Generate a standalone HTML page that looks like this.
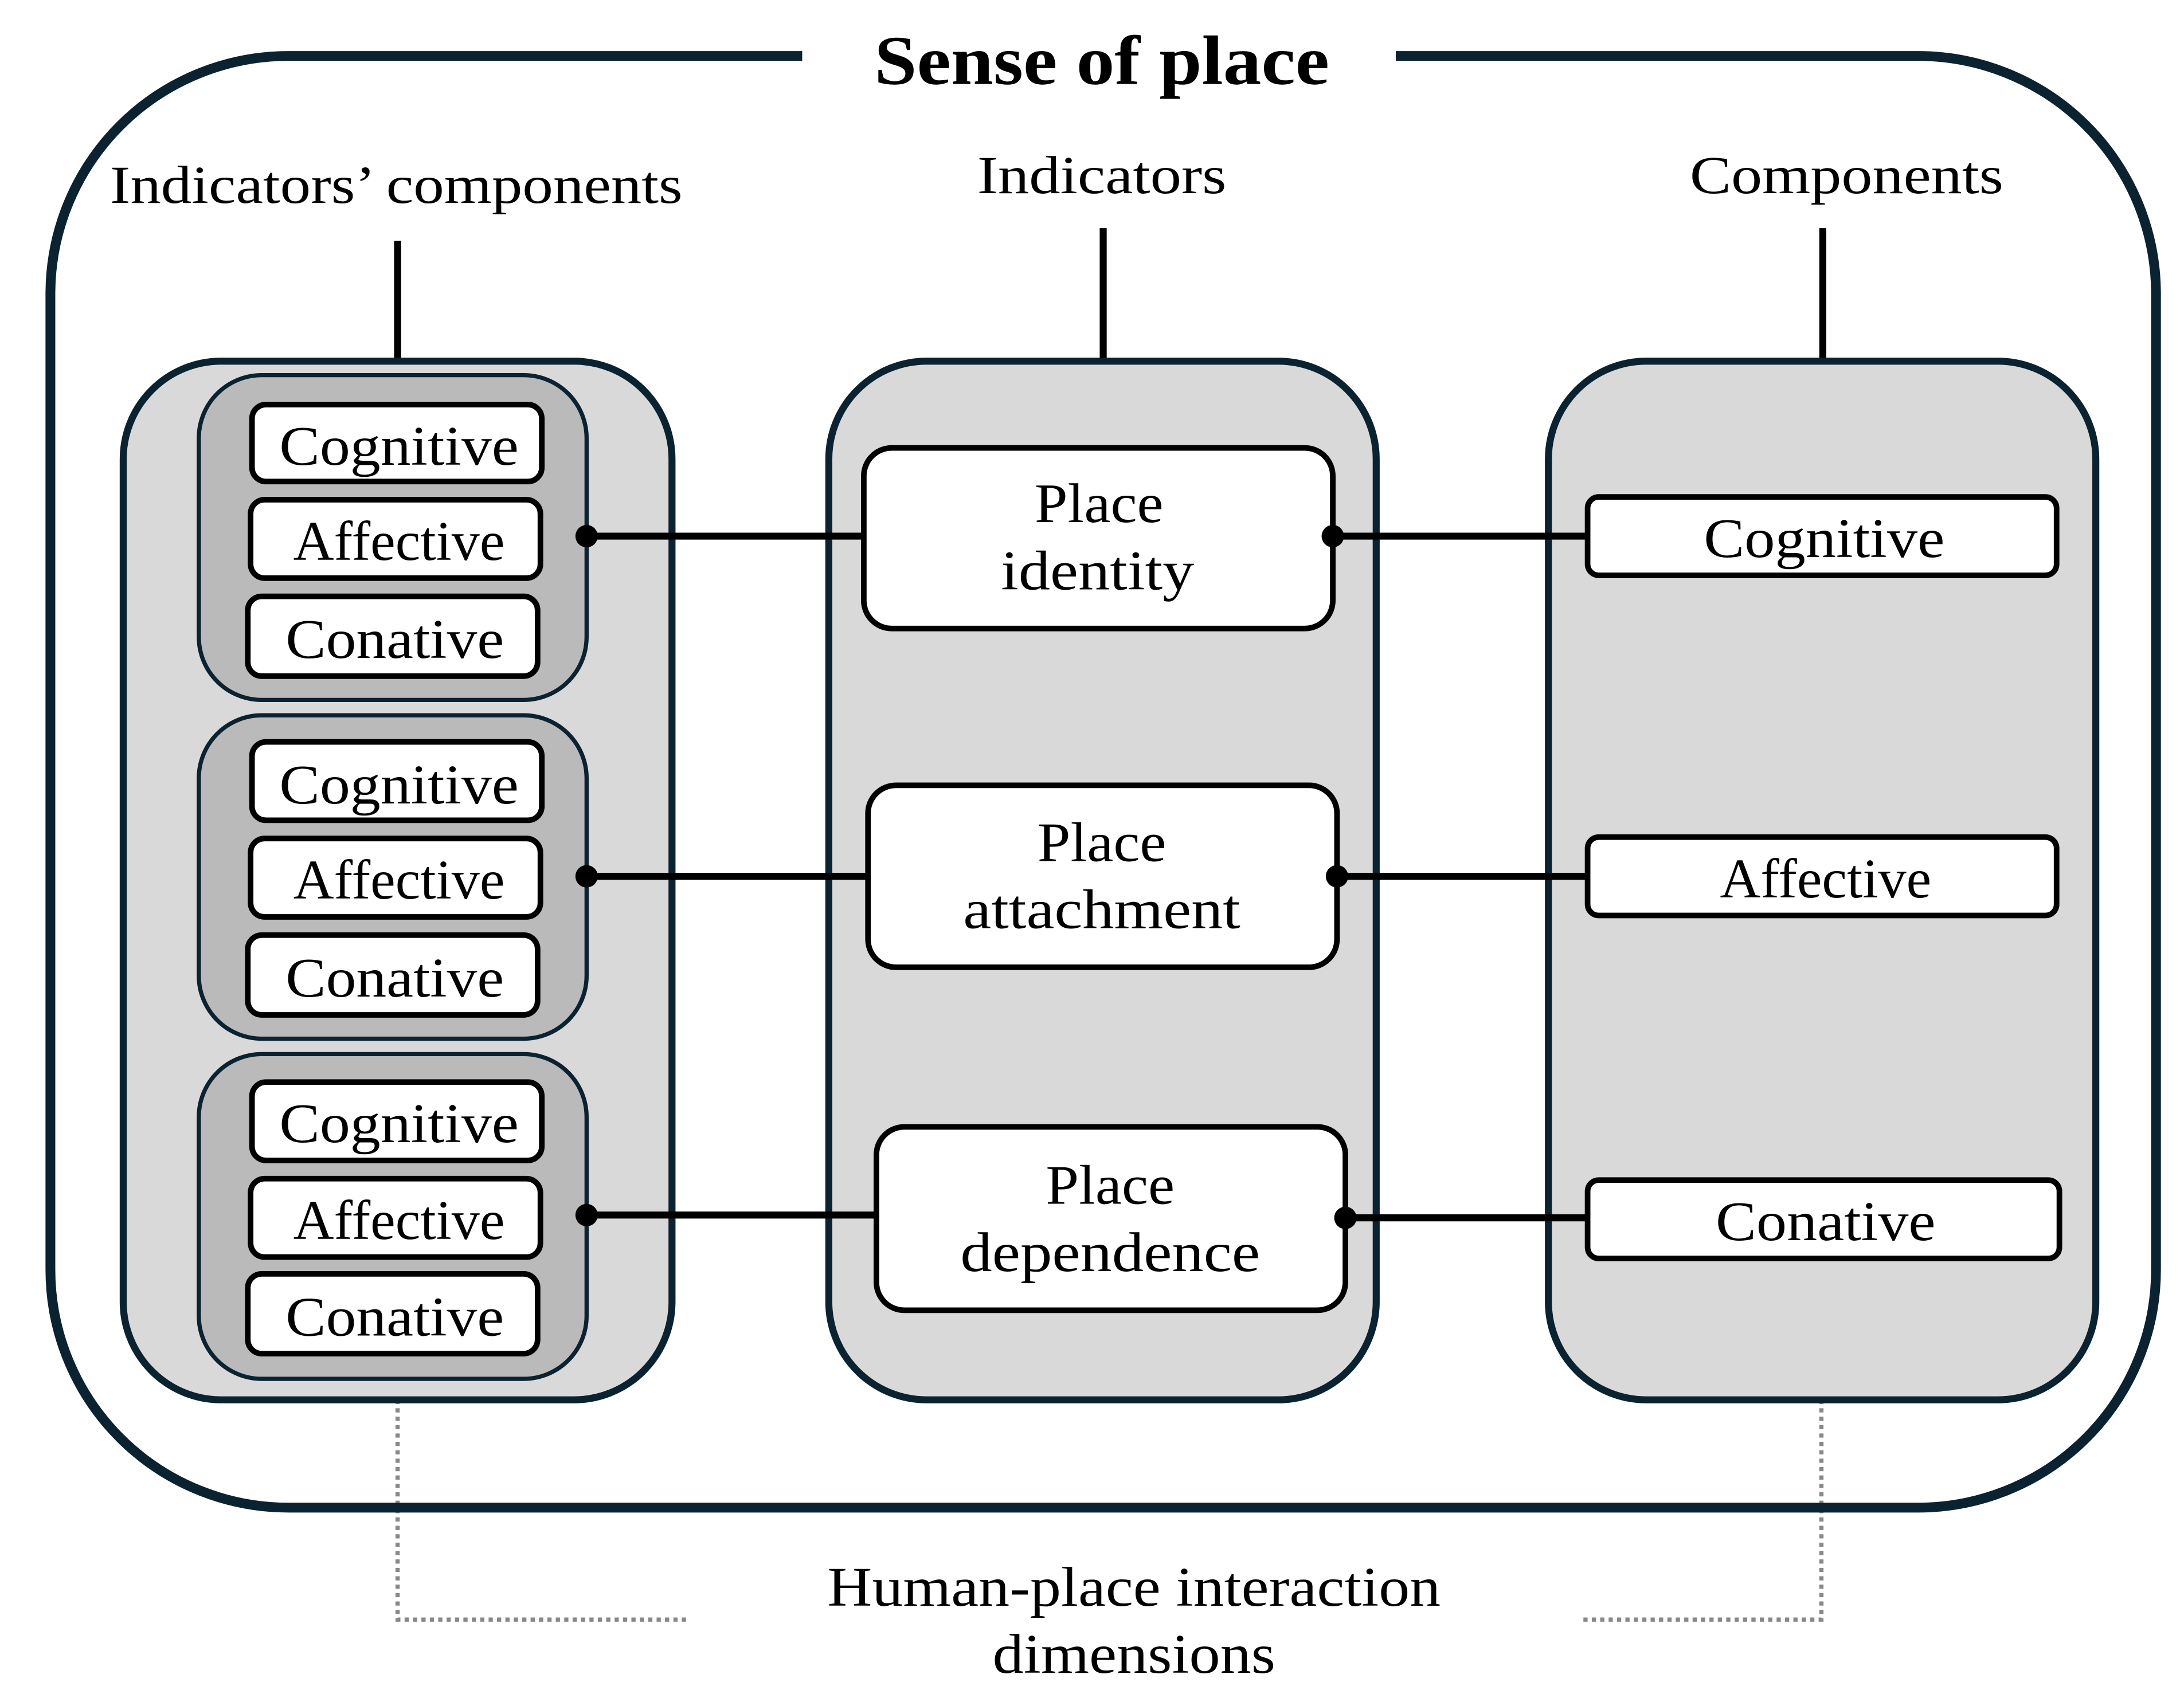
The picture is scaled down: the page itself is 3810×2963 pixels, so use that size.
<!DOCTYPE html>
<html><head><meta charset="utf-8"><style>
html,body{margin:0;padding:0;background:#fff;width:3810px;height:2963px;overflow:hidden}
svg{display:block}
text{font-family:"Liberation Serif",serif;fill:#000;text-anchor:middle}
</style></head><body>
<svg width="3810" height="2963" viewBox="0 0 1560 1213" preserveAspectRatio="none" xmlns="http://www.w3.org/2000/svg">
<rect x="0" y="0" width="1560" height="1213" fill="#fff"/>
<path d="M284 1000 V1157 H493" fill="none" stroke="#888" stroke-width="3" stroke-dasharray="3 3"/>
<path d="M1301 1000 V1157 H1128" fill="none" stroke="#888" stroke-width="3" stroke-dasharray="3 3"/>
<path d="M573 40 H206 A170 170 0 0 0 36 210 V907 A170 170 0 0 0 206 1077 H1370 A170 170 0 0 0 1540 907 V210 A170 170 0 0 0 1370 40 H997" fill="none" stroke="#0b2231" stroke-width="7"/>
<g lengthAdjust="spacingAndGlyphs">
<text x="787" y="60" font-size="50" font-weight="bold" textLength="325" lengthAdjust="spacingAndGlyphs">Sense of place</text>
<text x="283" y="145" font-size="38" textLength="409" lengthAdjust="spacingAndGlyphs">Indicators’ components</text>
<text x="787" y="138" font-size="38" textLength="178" lengthAdjust="spacingAndGlyphs">Indicators</text>
<text x="1319" y="138" font-size="38" textLength="224" lengthAdjust="spacingAndGlyphs">Components</text>
</g>
<g stroke="#000" stroke-width="5">
<line x1="284" y1="172" x2="284" y2="258"/>
<line x1="788" y1="163" x2="788" y2="258"/>
<line x1="1302" y1="163" x2="1302" y2="258"/>
</g>
<g fill="#d9d9d9" stroke="#0b2231" stroke-width="5">
<rect x="88" y="258" width="392" height="742" rx="70"/>
<rect x="592" y="258" width="391" height="742" rx="70"/>
<rect x="1106" y="258" width="391" height="742" rx="70"/>
</g>
<g fill="#bababa" stroke="#0b2231" stroke-width="3">
<rect x="142" y="268" width="277" height="232" rx="45"/>
<rect x="142" y="511" width="277" height="231" rx="45"/>
<rect x="142" y="753" width="277" height="232" rx="45"/>
</g>
<g fill="#fff" stroke="#000" stroke-width="4">
<rect x="180" y="289" width="207" height="55" rx="10"/>
<rect x="179" y="357" width="207" height="56" rx="10"/>
<rect x="177" y="426" width="207" height="57" rx="10"/>
<rect x="180" y="530" width="207" height="56" rx="10"/>
<rect x="179" y="599" width="207" height="56" rx="10"/>
<rect x="177" y="668" width="207" height="57" rx="10"/>
<rect x="180" y="773" width="207" height="56" rx="10"/>
<rect x="179" y="842" width="207" height="56" rx="10"/>
<rect x="177" y="910" width="207" height="57" rx="10"/>
<rect x="617" y="320" width="335" height="129" rx="20"/>
<rect x="620" y="561" width="335" height="130" rx="20"/>
<rect x="626" y="805" width="335" height="131" rx="20"/>
<rect x="1134" y="355" width="335" height="56" rx="8"/>
<rect x="1134" y="598" width="335" height="56" rx="8"/>
<rect x="1134" y="843" width="337" height="56" rx="8"/>
</g>
<g font-size="40">
<text x="285" y="332" textLength="171" lengthAdjust="spacingAndGlyphs">Cognitive</text>
<text x="285" y="400" textLength="151" lengthAdjust="spacingAndGlyphs">Affective</text>
<text x="282" y="470" textLength="156" lengthAdjust="spacingAndGlyphs">Conative</text>
<text x="285" y="574" textLength="171" lengthAdjust="spacingAndGlyphs">Cognitive</text>
<text x="285" y="642" textLength="151" lengthAdjust="spacingAndGlyphs">Affective</text>
<text x="282" y="712" textLength="156" lengthAdjust="spacingAndGlyphs">Conative</text>
<text x="285" y="816" textLength="171" lengthAdjust="spacingAndGlyphs">Cognitive</text>
<text x="285" y="885" textLength="151" lengthAdjust="spacingAndGlyphs">Affective</text>
<text x="282" y="954" textLength="156" lengthAdjust="spacingAndGlyphs">Conative</text>
<text x="785" y="373" textLength="92" lengthAdjust="spacingAndGlyphs">Place</text>
<text x="784" y="421" textLength="138" lengthAdjust="spacingAndGlyphs">identity</text>
<text x="787" y="615" textLength="92" lengthAdjust="spacingAndGlyphs">Place</text>
<text x="787" y="663" textLength="198" lengthAdjust="spacingAndGlyphs">attachment</text>
<text x="793" y="860" textLength="92" lengthAdjust="spacingAndGlyphs">Place</text>
<text x="793" y="908" textLength="214" lengthAdjust="spacingAndGlyphs">dependence</text>
<text x="1303" y="398" textLength="172" lengthAdjust="spacingAndGlyphs">Cognitive</text>
<text x="1304" y="641" textLength="151" lengthAdjust="spacingAndGlyphs">Affective</text>
<text x="1304" y="886" textLength="157" lengthAdjust="spacingAndGlyphs">Conative</text>
<text x="810" y="1147" textLength="438" lengthAdjust="spacingAndGlyphs">Human-place interaction</text>
<text x="810" y="1195" textLength="202" lengthAdjust="spacingAndGlyphs">dimensions</text>
</g>
<g stroke="#000" stroke-width="5">
<line x1="419" y1="383" x2="617" y2="383"/>
<line x1="419" y1="626" x2="620" y2="626"/>
<line x1="419" y1="868" x2="626" y2="868"/>
<line x1="952" y1="383" x2="1134" y2="383"/>
<line x1="955" y1="626" x2="1134" y2="626"/>
<line x1="961" y1="870" x2="1134" y2="870"/>
</g>
<g fill="#000">
<circle cx="419" cy="383" r="8"/><circle cx="419" cy="626" r="8"/><circle cx="419" cy="868" r="8"/>
<circle cx="952" cy="383" r="8"/><circle cx="955" cy="626" r="8"/><circle cx="961" cy="870" r="8"/>
</g>
</svg>
</body></html>
